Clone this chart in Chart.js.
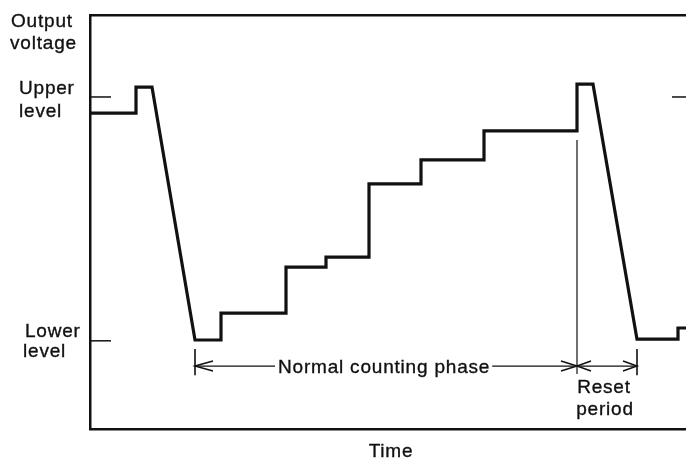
<!DOCTYPE html>
<html>
<head>
<meta charset="utf-8">
<script src="https://cdn.jsdelivr.net/npm/chart.js@4/dist/chart.umd.min.js"></script>
<style>
  html, body { margin: 0; padding: 0; background: #fff; overflow: hidden; }
  #wrap { width: 686px; height: 459px; position: relative; }
</style>
</head>
<body>
<div id="wrap"><canvas id="c" width="686" height="459"></canvas></div>
<script>
// ---- data (time in arbitrary units, output voltage in arbitrary units) ----
const timePoints    = [0, 46, 46, 62, 105, 131, 131, 196, 196, 236, 236, 279, 279, 331, 331, 394, 394, 487, 487, 503, 547, 588, 588, 596];
const outputVoltage = [76.3, 76.3, 82.6, 82.6, 21.5, 21.5, 28.0, 28.0, 39.1, 39.1, 41.5, 41.5, 59.2, 59.2, 65.0, 65.0, 72.0, 72.0, 83.3, 83.3, 21.7, 21.7, 24.4, 24.4];
const levelValues   = [80.2, 21.3];
const levelLabels   = [["Upper", "level"], ["Lower", "level"]];
const axisLabelY    = ["Output", "voltage"];
const axisLabelX    = "Time";
const phaseTimes    = [105, 487, 547];   // count start, count end / reset start, reset end
const phaseLabels   = [["Normal counting phase"], ["Reset", "period"]];
const timeRange     = [0, 596];
const voltageRange  = [0, 100];

const FONT = '19px "Liberation Sans", Arial, Helvetica, sans-serif';
const INK = '#111';

const wave = timePoints.map((t, i) => ({ x: t, y: outputVoltage[i] }));
const seg = (x0, y0, x1, y1) => [{ x: x0, y: y0 }, { x: x1, y: y1 }];

const thin = (data, w) => ({
  data, borderColor: INK, borderWidth: w, pointRadius: 0, fill: false, tension: 0, clip: false
});

const datasets = [
  { data: wave, borderColor: INK, borderWidth: 3.2, pointRadius: 0, fill: false, tension: 0,
    borderJoinStyle: 'miter', borderCapStyle: 'butt' },
  thin(seg(0, levelValues[0], 21, levelValues[0]), 1.5),
  thin(seg(0, levelValues[1], 21, levelValues[1]), 1.5),
  thin(seg(582, levelValues[0], 596, levelValues[0]), 1.5),
  thin(seg(phaseTimes[1], 69.8, phaseTimes[1], 13.3), 1.2),
  thin(seg(phaseTimes[0], 19.3, phaseTimes[0], 13.0), 1.6),
  thin(seg(phaseTimes[2], 19.3, phaseTimes[2], 13.0), 1.6)
];

const textPlugin = {
  id: 'texts',
  afterDraw(chart) {
    const { ctx, scales: { x, y } } = chart;
    ctx.save();
    ctx.font = FONT;
    ctx.fillStyle = INK;
    ctx.strokeStyle = INK;
    if ('letterSpacing' in ctx) ctx.letterSpacing = '0.8px';
    ctx.textBaseline = 'alphabetic';
    ctx.textAlign = 'left';
    const txt = (s, px, py) => {
      ctx.fillText(s, px, py);
      ctx.lineWidth = 0.35;
      ctx.strokeText(s, px, py);
    };

    // y-axis label
    txt(axisLabelY[0], 11, 27);
    txt(axisLabelY[1], 10, 49);
    // level labels
    const up = y.getPixelForValue(levelValues[0]);
    txt(levelLabels[0][0], 19, up - 3);
    txt(levelLabels[0][1], 19, up + 20);
    const lo = y.getPixelForValue(levelValues[1]);
    txt(levelLabels[1][0], 25, lo - 4);
    txt(levelLabels[1][1], 23, lo + 16);

    // x-axis label
    ctx.textAlign = 'center';
    txt(axisLabelX, 391, 457);

    // phase arrows
    const ay = y.getPixelForValue(15.2);
    const x0 = x.getPixelForValue(phaseTimes[0]);
    const x1 = x.getPixelForValue(phaseTimes[1]);
    const x2 = x.getPixelForValue(phaseTimes[2]);
    const label = phaseLabels[0][0];
    ctx.textAlign = 'left';
    const tx = 278;
    const tw = ctx.measureText(label).width;
    txt(label, tx, ay + 7);

    ctx.lineWidth = 1.3;
    ctx.beginPath();
    ctx.moveTo(x0, ay); ctx.lineTo(tx - 3, ay);
    ctx.moveTo(tx + tw + 2, ay); ctx.lineTo(x1, ay);
    ctx.moveTo(x1, ay); ctx.lineTo(x2, ay);
    ctx.stroke();
    const head = (px, dir, len) => {
      ctx.beginPath();
      ctx.moveTo(px + dir * len, ay - 5);
      ctx.lineTo(px, ay);
      ctx.lineTo(px + dir * len, ay + 5);
      ctx.stroke();
    };
    ctx.lineWidth = 1.5;
    head(x0, 1, 18);   // left-pointing at count start
    head(x1, -1, 16);  // right-pointing at count end
    head(x1, 1, 14);   // left-pointing at reset start
    head(x2, -1, 14);  // right-pointing at reset end

    ctx.textAlign = 'center';
    txt(phaseLabels[1][0], 604, 393);
    txt(phaseLabels[1][1], 605, 415);
    ctx.restore();
  }
};

const hiddenAxis = (extra) => Object.assign({
  type: 'linear',
  ticks: { display: false },
  grid: { display: false, drawTicks: false },
  border: { display: true, color: INK, width: 2.5 }
}, extra);

new Chart(document.getElementById('c'), {
  type: 'line',
  data: { datasets },
  options: {
    responsive: false,
    animation: false,
    events: [],
    layout: { padding: 0 },
    plugins: { legend: { display: false }, tooltip: { enabled: false }, title: { display: false } },
    scales: {
      x: hiddenAxis({ position: 'bottom', min: timeRange[0], max: timeRange[1],
        afterFit(s) { s.height = 30; } }),
      xTop: hiddenAxis({ position: 'top', min: timeRange[0], max: timeRange[1],
        afterFit(s) { s.height = 15; } }),
      y: hiddenAxis({ position: 'left', min: voltageRange[0], max: voltageRange[1],
        afterFit(s) { s.width = 90; } })
    }
  },
  plugins: [textPlugin]
});
</script>
</body>
</html>
